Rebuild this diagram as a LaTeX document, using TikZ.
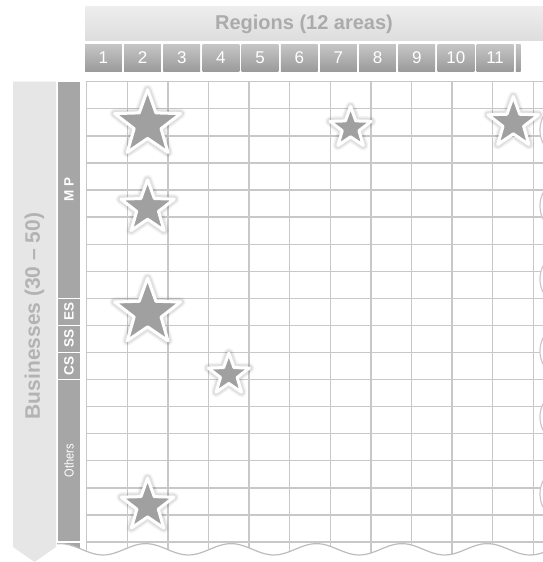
\documentclass[tikz,border=0pt]{standalone}
\usepackage{fontspec}
\usepackage{graphicx}
\setmainfont{Liberation Sans}
\usetikzlibrary{shapes.geometric}
\definecolor{gridc}{HTML}{C8C8C8}
\definecolor{starc}{HTML}{A0A0A0}
\definecolor{catc}{HTML}{A6A6A6}
\definecolor{headc}{HTML}{E9E9E9}
\definecolor{titlec}{HTML}{ABABAB}
\definecolor{busc}{HTML}{E6E6E6}
\definecolor{bustext}{HTML}{B3B3B3}
\definecolor{numtop}{HTML}{C6C6C6}
\definecolor{numbot}{HTML}{9A9A9A}
\definecolor{wavec}{HTML}{BDBDBD}
\begin{document}
\begin{tikzpicture}[x=1pt,y=-1pt,
  gridline/.style={draw=gridc,line width=1.3pt},
  starmark/.style={star,star points=5,star point ratio=2.45,inner sep=0pt,
    fill=starc,draw=white,line width=3pt,line join=round,
    preaction={draw=black,opacity=0.05,line width=10pt,line join=round},
    preaction={draw=black,opacity=0.07,line width=7pt,line join=round}},
  numbox/.style={rectangle,inner sep=0pt,minimum width=36.8pt,minimum height=27.7pt,
    top color=numtop,bottom color=numbot,text=white,font=\fontsize{17}{20}\selectfont},
  catbox/.style={rectangle,inner sep=0pt,fill=catc,minimum height=22pt,rotate=90,text=white},
  sidecircle/.style={draw=gridc,fill=white,line width=1.2pt}
]
\useasboundingbox (0,0) rectangle (543,562);
\clip (0,0) rectangle (543,562);
\fill[white] (0,0) rectangle (543,562);

% header
\shade[top color=headc!80!white,bottom color=headc!95!black] (85,6.5) rectangle (543,40.5);
\node[text=titlec,font=\fontsize{20}{24}\selectfont\bfseries] (title) at (304,24) {Regions (12 areas)};
\foreach \i in {1,...,11}
  \node[numbox] (n\i) at ({85+39.17*(\i-1)+18.4},57.85) {\i};
\shade[top color=numtop,bottom color=numbot] (515.8,44) rectangle (520.5,71.7);

% businesses arrow
\fill[busc] (13,81.7) -- (56,81.7) -- (56,547) -- (34.5,562) -- (13,547) -- cycle;
\node[rotate=90,text=bustext,font=\fontsize{21}{25}\selectfont\bfseries] (bus) at (34.5,316) {Businesses (30 – 50)};

% category bar
\node[catbox,minimum width=215.84pt] (mp) at (69,189.62) {\fontsize{13.5}{16}\selectfont\bfseries M P};
\node[catbox,minimum width=25.48pt] (es) at (69,311.88) {\fontsize{13.5}{16}\selectfont\bfseries ES};
\node[catbox,minimum width=25.48pt] (ss) at (69,338.96) {\fontsize{13.5}{16}\selectfont\bfseries SS};
\node[catbox,minimum width=25.48pt] (cs) at (69,366.04) {\fontsize{13.5}{16}\selectfont\bfseries CS};
\node[catbox,minimum width=160.88pt] (oth) at (69,460.82) {\fontsize{13}{16}\selectfont\scalebox{0.85}[1]{Others}};
\node[catbox,minimum width=19.14pt] (last) at (69,552.43) {};

% grid
\foreach \k in {0,...,11}
  \draw[gridline] ({86.7+40.6*\k},81.05) -- ({86.7+40.6*\k},562);
\foreach \k in {0,...,17}
  \draw[gridline] (86.05,{81.7+27.08*\k}) -- (543,{81.7+27.08*\k});

% partial circles at right edge
\foreach \y in {130,206,279,351,417,494}
  \draw[sidecircle] (570,\y) circle (30);

% stars
\node[starmark,minimum size=69.2pt] (s1) at (147.6,124.3) {};
\node[starmark,minimum size=56pt] (s2) at (147.6,207.8) {};
\node[starmark,minimum size=69.2pt] (s3) at (147.6,312.7) {};
\node[starmark,minimum size=43pt] (s4) at (228.8,374.7) {};
\node[starmark,minimum size=43pt] (s5) at (350.6,128) {};
\node[starmark,minimum size=53pt] (s6) at (513.3,123) {};
\node[starmark,minimum size=55pt] (s7) at (147.6,505.7) {};

% wavy cut
\fill[white] plot[domain=57:543,samples=120] (\x,{549.3-5.7*cos(4.2155*(\x-60.3))}) -- (543,562) -- (57,562) -- cycle;
\draw[draw=wavec,line width=1.2pt] plot[domain=57:543,samples=120] (\x,{549.3-5.7*cos(4.2155*(\x-60.3))});
\end{tikzpicture}
\end{document}
